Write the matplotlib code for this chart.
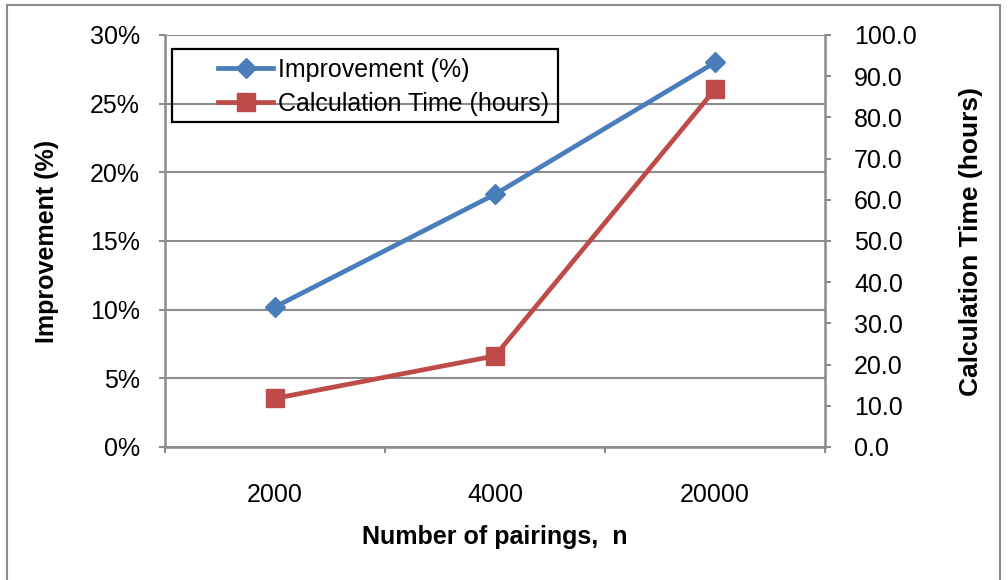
import numpy as np
import matplotlib
matplotlib.use('Agg')
import matplotlib.pyplot as plt
from matplotlib.patches import Rectangle

plt.rcParams['font.family'] = ['Liberation Sans', 'DejaVu Sans']

categories = ['2000', '4000', '20000']
improvement = [10.2, 18.4, 28.0]      # percent
calc_time = [11.8, 22.1, 86.8]        # hours

blue = '#4A7EBB'
red = '#BE4B48'
grey = '#8C8C8C'

W, H = 1008, 580
fig = plt.figure(figsize=(W/100, H/100), dpi=100)
ax = fig.add_axes([165/W, 1 - 447/H, 660/W, 412/H])
ax2 = ax.twinx()

x = np.arange(len(categories))
l1, = ax.plot(x, improvement, color=blue, lw=3.4, marker='D', ms=10,
              label='Improvement (%)', zorder=3)
l2, = ax2.plot(x, calc_time, color=red, lw=3.4, marker='s', ms=13,
               label='Calculation Time (hours)', zorder=3)

ax.set_xlim(-0.5, len(categories) - 0.5)
ax.set_ylim(0, 30)
ax2.set_ylim(0, 100)

ax.set_yticks(np.arange(0, 31, 5))
ax.set_yticklabels(['%d%%' % v for v in range(0, 31, 5)])
ax2.set_yticks(np.arange(0, 101, 10))
ax2.set_yticklabels(['%.1f' % v for v in range(0, 101, 10)])

ax.set_xticks(x)
ax.set_xticklabels(categories)
ax.set_xticks(np.arange(-0.5, len(categories), 1), minor=True)
ax.tick_params(axis='x', which='major', length=0, pad=26, labelsize=18)
ax.tick_params(axis='x', which='minor', length=4, color=grey, width=1.5)
ax.tick_params(axis='y', length=4, color=grey, width=1.5, labelsize=18, pad=14)
ax2.tick_params(axis='y', length=4, color=grey, width=1.5, labelsize=18, pad=17)

ax.grid(axis='y', color=grey, lw=1.5)
ax.set_axisbelow(True)

for a in (ax, ax2):
    for side in ('top', 'right', 'left', 'bottom'):
        a.spines[side].set_visible(False)
ax.spines['left'].set_visible(True)
ax.spines['bottom'].set_visible(True)
ax2.spines['right'].set_visible(True)
for s in (ax.spines['left'], ax.spines['bottom'], ax2.spines['right']):
    s.set_color(grey)
    s.set_linewidth(1.8)

ax.set_ylabel('Improvement (%)', fontsize=18, fontweight='bold')
ax.yaxis.set_label_coords((59 - 165)/660, 0.5)
ax2.set_ylabel('Calculation Time (hours)', fontsize=19, fontweight='bold')
ax2.yaxis.set_label_coords((959 - 165)/660, 0.5)
ax.set_xlabel('Number of pairings,  n', fontsize=18, fontweight='bold')
ax.xaxis.set_label_coords(0.5, (447 - 525)/412)

leg = ax2.legend(handles=[l1, l2], loc='upper left', bbox_to_anchor=(218/W, 1 - 58/H),
                 bbox_transform=fig.transFigure, frameon=False,
                 fontsize=18, handlelength=2.2, borderpad=0,
                 labelspacing=0.4, borderaxespad=0, handletextpad=0.2)

# legend box
fig.patches.append(Rectangle((172/W, 1 - 122/H), 386/W, 73/H,
                             transform=fig.transFigure, fill=False,
                             edgecolor='black', lw=1.6, zorder=5))

# outer chart border
fig.patches.append(Rectangle((7/W, -0.01), 993/W, 1 - 5/H + 0.01,
                             transform=fig.transFigure, fill=False,
                             edgecolor=grey, lw=1.5))

fig.savefig('out.png', dpi=100)
